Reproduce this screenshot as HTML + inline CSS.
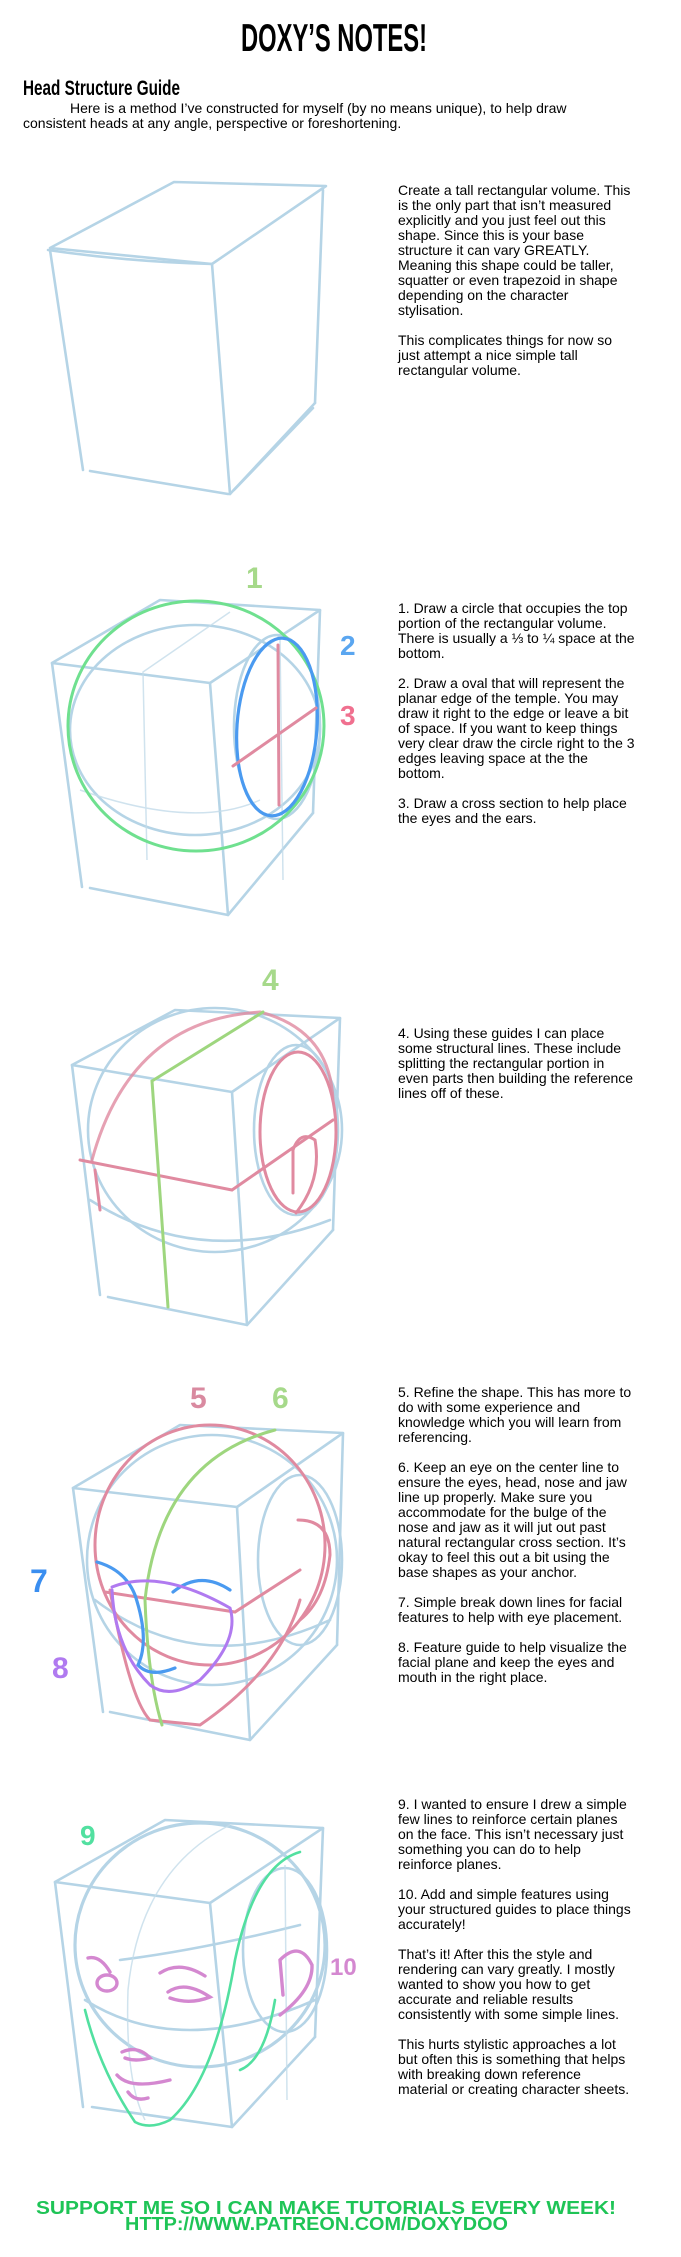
<!DOCTYPE html>
<html><head><meta charset="utf-8"><style>
html,body{margin:0;padding:0;background:#fff}
body{width:681px;height:2257px;position:relative;overflow:hidden;font-family:"Liberation Sans",Arial,sans-serif;color:#000}
svg{position:absolute;left:0;top:0}
.t{position:absolute;left:398px;width:282px;font-size:14px;line-height:15px;white-space:nowrap}
.t p{margin:0 0 15px 0}
.intro{position:absolute;left:23px;top:101px;font-size:14px;line-height:15px;white-space:nowrap}
.b{fill:none;stroke:#a9cde2;stroke-width:2.6;stroke-linecap:round;stroke-linejoin:round;opacity:.85}
.bl{fill:none;stroke:#c4dcea;stroke-width:1.5;opacity:.8}
.g{fill:none;stroke:#6fe08f;stroke-width:3;stroke-linecap:round}
.lg{fill:none;stroke:#9ed67e;stroke-width:3;stroke-linecap:round}
.bu{fill:none;stroke:#4a9af0;stroke-width:3.2;stroke-linecap:round}
.pk{fill:none;stroke:#e08aa0;stroke-width:3;stroke-linecap:round}
.pu{fill:none;stroke:#b07af0;stroke-width:3;stroke-linecap:round}
.mg{fill:none;stroke:#d488d0;stroke-width:3.4;stroke-linecap:round}
.tg{fill:none;stroke:#52e0a0;stroke-width:2.6;stroke-linecap:round}
.lab{font-family:"Liberation Sans",sans-serif;font-weight:bold}
</style></head><body>
<svg width="681" height="2257" viewBox="0 0 681 2257">
<text x="241" y="51" font-family="Liberation Sans Narrow, Liberation Sans, sans-serif" font-weight="bold" font-size="39" textLength="186" lengthAdjust="spacingAndGlyphs">DOXY’S NOTES!</text>
<text x="23" y="95" font-family="Liberation Sans Narrow, Liberation Sans, sans-serif" font-weight="bold" font-size="21" textLength="157" lengthAdjust="spacingAndGlyphs">Head Structure Guide</text>

<!-- Box 1 -->
<g class="b">
<path d="M50,248 L174,182 L326,186 L212,264 Z"/>
<path d="M48,250 Q130,262 212,264"/>
<path d="M50,250 L83,470"/><path d="M212,264 L230,494"/>
<path d="M323,190 L315,403"/><path d="M90,471 L228,494"/>
<path d="M230,494 L315,403"/><path d="M234,490 L313,408"/>
</g>

<!-- Box 2 -->
<text class="lab" x="246" y="588" font-size="30" fill="#a6d98a">1</text>
<text class="lab" x="340" y="655" font-size="28" fill="#5aa6f0">2</text>
<text class="lab" x="340" y="725" font-size="28" fill="#f0708f">3</text>
<g class="b">
<path d="M52,663 L160,600 L320,610 L210,683 Z"/>
<path d="M52,663 L82,887"/><path d="M210,683 L228,915"/>
<path d="M320,610 L313,813"/><path d="M90,888 L228,915 L313,813"/>
<ellipse cx="195" cy="730" rx="125" ry="105"/>
<ellipse cx="277" cy="727" rx="43" ry="92"/>
</g>
<g class="bl"><path d="M230,612 L143,672 L147,860"/><path d="M280,640 L283,880"/><path d="M80,790 Q195,830 260,800"/></g>
<ellipse class="g" cx="196" cy="726" rx="128" ry="125"/>
<ellipse class="bu" cx="277" cy="727" rx="40" ry="89" transform="rotate(4 277 727)"/>
<path class="pk" d="M278,645 L279,805 M233,766 L316,708"/>

<!-- Box 3 -->
<text class="lab" x="262" y="990" font-size="30" fill="#a6d98a">4</text>
<g class="b">
<path d="M72,1065 L175,1010 L340,1018 L232,1092 Z"/>
<path d="M72,1065 L100,1295"/><path d="M232,1092 L247,1325"/>
<path d="M340,1018 L333,1230"/><path d="M108,1297 L247,1325 L333,1230"/>
<ellipse cx="215" cy="1130" rx="127" ry="122"/>
<path d="M90,1200 Q200,1270 330,1220"/>
<ellipse cx="296" cy="1130" rx="42" ry="85"/>
</g>
<path class="pk" d="M92,1160 Q130,1020 260,1012 Q330,1030 333,1100" opacity=".8"/>
<path class="pk" d="M95,1170 L100,1210" />
<path class="pk" d="M80,1160 L232,1190 L333,1120" stroke-width="1.8"/>
<ellipse class="pk" cx="298" cy="1132" rx="38" ry="80"/>
<path class="pk" d="M293,1193 L293,1150 Q300,1130 315,1140 Q322,1180 296,1213" stroke-width="4"/>
<path class="lg" d="M263,1012 L152,1081 L168,1307"/>

<!-- Box 4 -->
<text class="lab" x="190" y="1408" font-size="30" fill="#d98aa0">5</text>
<text class="lab" x="272" y="1408" font-size="30" fill="#a6d98a">6</text>
<text class="lab" x="30" y="1592" font-size="32" fill="#3a8ef0">7</text>
<text class="lab" x="52" y="1678" font-size="30" fill="#b07af0">8</text>
<g class="b">
<path d="M73,1488 L180,1425 L343,1433 L237,1507 Z"/>
<path d="M73,1488 L103,1712"/><path d="M237,1507 L250,1740"/>
<path d="M343,1433 L337,1645"/><path d="M110,1712 L250,1740 L337,1645"/>
<ellipse cx="212" cy="1560" rx="125" ry="125"/>
<path d="M95,1600 Q200,1680 330,1620"/>
<ellipse cx="300" cy="1560" rx="42" ry="85"/>
</g>
<ellipse class="pk" cx="210" cy="1545" rx="115" ry="120" stroke-width="3.2"/>
<path class="pk" d="M110,1590 Q130,1700 150,1720 L200,1725 Q280,1670 300,1600"/>
<path class="pk" d="M105,1592 L235,1612 L300,1570 M298,1520 Q330,1520 330,1555 Q325,1600 300,1620" stroke-width="3"/>
<path class="lg" d="M275,1430 Q160,1460 145,1600 Q148,1680 162,1725"/>
<path class="bu" d="M97,1562 Q125,1570 135,1595 Q150,1640 138,1665 Q150,1678 175,1668 M173,1592 Q200,1570 230,1590"/>
<path class="pu" d="M112,1587 Q160,1568 230,1608 Q240,1640 200,1680 Q170,1700 150,1685 Q115,1650 112,1590"/>

<!-- Box 5 -->
<text class="lab" x="80" y="1845" font-size="28" fill="#52e0a0">9</text>
<text class="lab" x="330" y="1975" font-size="24" fill="#d488d0">10</text>
<g class="b">
<path d="M55,1882 L165,1820 L323,1828 L210,1903 Z"/>
<path d="M55,1882 L83,2107"/><path d="M210,1903 L232,2127"/>
<path d="M323,1828 L315,2037"/><path d="M92,2107 L232,2127 L315,2037"/>
<ellipse cx="200" cy="1945" rx="125" ry="122" stroke-width="3.2"/>
<ellipse cx="285" cy="1950" rx="42" ry="82"/>
<path d="M85,2000 Q180,2060 315,2000"/>
<path d="M120,1960 Q200,1950 300,1925"/>
</g>
<g class="bl"><path d="M230,1825 Q140,1870 128,1990 Q125,2080 145,2120"/><path d="M285,1865 L287,2100"/></g>
<path class="tg" d="M300,1852 Q255,1865 235,1960 Q215,2080 170,2120 Q150,2130 135,2122 Q100,2070 85,2010"/>
<path class="tg" d="M275,2000 Q265,2060 240,2070"/>
<g class="mg">
<path d="M88,1958 Q100,1955 110,1972"/><ellipse cx="107" cy="1983" rx="10" ry="8"/>
<path d="M160,1973 Q180,1960 205,1976"/><path d="M168,1992 Q185,1980 210,1997 Q190,2005 170,1998"/>
<path d="M122,2052 Q138,2045 150,2058 Q135,2062 125,2058"/>
<path d="M117,2075 Q130,2090 170,2080"/><path d="M128,2092 Q135,2102 148,2098"/>
<path d="M283,1995 L280,1960 Q300,1940 312,1965 Q313,1990 280,2015"/>
</g>

<text x="36" y="2214" font-family="Liberation Sans, sans-serif" font-weight="bold" font-size="18" fill="#1ec456" textLength="580" lengthAdjust="spacingAndGlyphs">SUPPORT ME SO I CAN MAKE TUTORIALS EVERY WEEK!</text>
<text x="125" y="2230" font-family="Liberation Sans, sans-serif" font-weight="bold" font-size="18" fill="#1ec456" textLength="383" lengthAdjust="spacingAndGlyphs">HTTP://WWW.PATREON.COM/DOXYDOO</text>
</svg>

<div class="intro"><span style="padding-left:47px"></span>Here is a method I’ve constructed for myself (by no means unique), to help draw<br>consistent heads at any angle, perspective or foreshortening.</div>

<div class="t" style="top:183px"><p>Create a tall rectangular volume. This<br>is the only part that isn’t measured<br>explicitly and you just feel out this<br>shape. Since this is your base<br>structure it can vary GREATLY.<br>Meaning this shape could be taller,<br>squatter or even trapezoid in shape<br>depending on the character<br>stylisation.</p><p>This complicates things for now so<br>just attempt a nice simple tall<br>rectangular volume.</p></div>

<div class="t" style="top:601px"><p>1. Draw a circle that occupies the top<br>portion of the rectangular volume.<br>There is usually a ⅓ to ¼ space at the<br>bottom.</p><p>2. Draw a oval that will represent the<br>planar edge of the temple. You may<br>draw it right to the edge or leave a bit<br>of space. If you want to keep things<br>very clear draw the circle right to the 3<br>edges leaving space at the the<br>bottom.</p><p>3. Draw a cross section to help place<br>the eyes and the ears.</p></div>

<div class="t" style="top:1026px"><p>4. Using these guides I can place<br>some structural lines. These include<br>splitting the rectangular portion in<br>even parts then building the reference<br>lines off of these.</p></div>

<div class="t" style="top:1385px"><p>5. Refine the shape. This has more to<br>do with some experience and<br>knowledge which you will learn from<br>referencing.</p><p>6. Keep an eye on the center line to<br>ensure the eyes, head, nose and jaw<br>line up properly. Make sure you<br>accommodate for the bulge of the<br>nose and jaw as it will jut out past<br>natural rectangular cross section. It’s<br>okay to feel this out a bit using the<br>base shapes as your anchor.</p><p>7. Simple break down lines for facial<br>features to help with eye placement.</p><p>8. Feature guide to help visualize the<br>facial plane and keep the eyes and<br>mouth in the right place.</p></div>

<div class="t" style="top:1797px"><p>9. I wanted to ensure I drew a simple<br>few lines to reinforce certain planes<br>on the face. This isn’t necessary just<br>something you can do to help<br>reinforce planes.</p><p>10. Add and simple features using<br>your structured guides to place things<br>accurately!</p><p>That’s it! After this the style and<br>rendering can vary greatly. I mostly<br>wanted to show you how to get<br>accurate and reliable results<br>consistently with some simple lines.</p><p>This hurts stylistic approaches a lot<br>but often this is something that helps<br>with breaking down reference<br>material or creating character sheets.</p></div>
</body></html>
